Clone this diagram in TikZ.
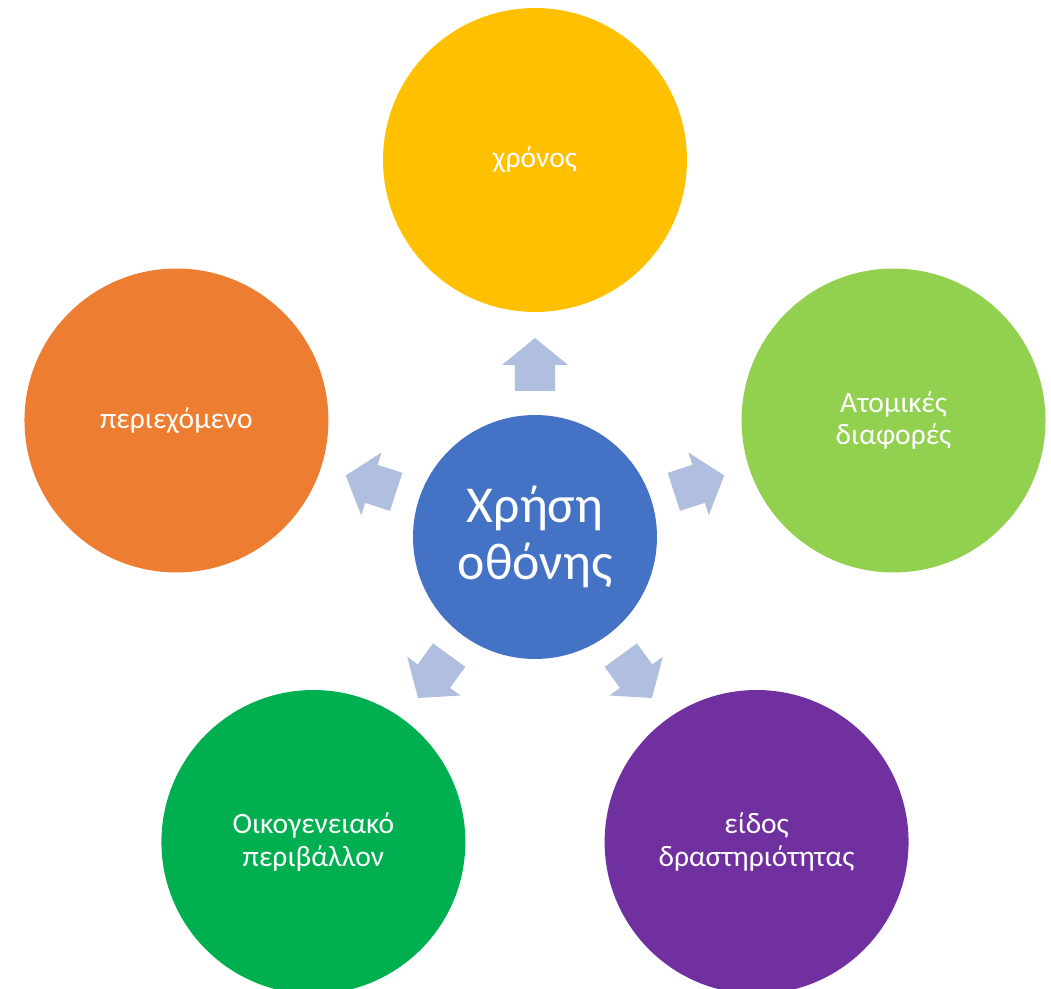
\documentclass[tikz,border=0pt]{standalone}
\usepackage{fontspec}
\setmainfont{Carlito}
\usetikzlibrary{positioning}
\definecolor{hubblue}{HTML}{4472C4}
\definecolor{timeyellow}{HTML}{FFC000}
\definecolor{difgreen}{HTML}{92D050}
\definecolor{contorange}{HTML}{ED7D31}
\definecolor{famgreen}{HTML}{00B050}
\definecolor{actpurple}{HTML}{7030A0}
\definecolor{arrowblue}{HTML}{B0BEE0}

\begin{document}
\begin{tikzpicture}[x=0.02cm, y=0.02cm,
  topic/.style={circle,minimum size=6.08cm,inner sep=0pt,text=white,align=center,font=\fontsize{16.8}{18.5}\selectfont},
  hub/.style={circle,minimum size=4.88cm,inner sep=0pt,fill=hubblue,text=white,align=center,font=\fontsize{29.5}{32.5}\selectfont}]
  \useasboundingbox (-535,-452) rectangle (516,537);
  \node[hub] (s) at (0,0) {Χρήση\\οθόνης};
  \node[topic, fill=timeyellow] (t) at (90:377) {χρόνος};
  \node[topic, fill=difgreen] (d) at (18:377) {Ατομικές\\διαφορές};
  \node[topic, fill=contorange] (c) at (162:377) {περιεχόμενο};
  \node[topic, fill=famgreen] (f) at (234:377) {Οικογενειακό\\περιβάλλον};
  \node[topic, fill=actpurple] (a) at (306:377) {είδος\\δραστηριότητας};
  % block arrows pointing out of the hub
  \foreach \a in {90,18,162,234,306}
    \fill[arrowblue, rotate=\a] (146,-20) -- (172,-20) -- (172,-33) -- (199,0)
      -- (172,33) -- (172,20) -- (146,20) -- cycle;
\end{tikzpicture}
\end{document}
